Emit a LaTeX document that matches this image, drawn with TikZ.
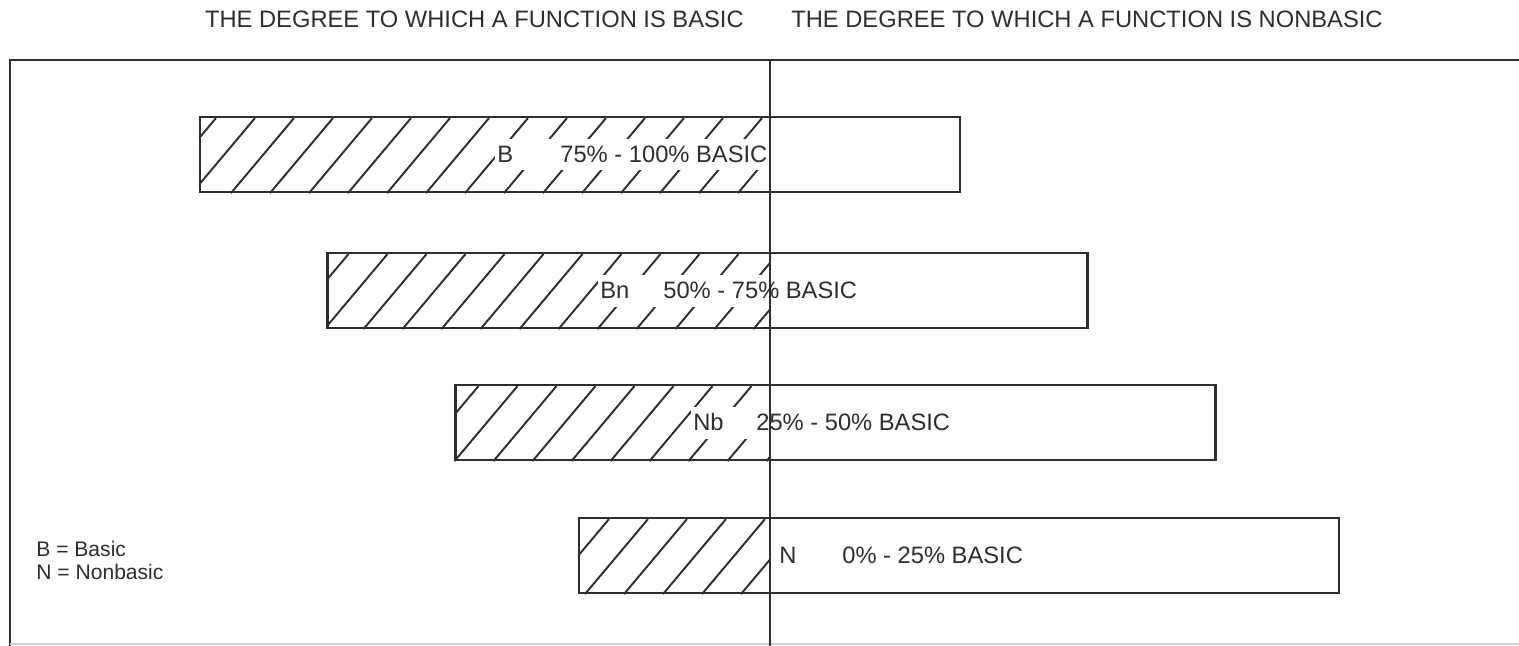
\documentclass[tikz,border=0pt]{standalone}
\usepackage{fontspec}
\setmainfont{Liberation Sans}
\usetikzlibrary{positioning}
\definecolor{PrintInk}{HTML}{2E2E2E}

\begin{document}
\begin{tikzpicture}[x=0.02cm, y=-0.02cm,
  every node/.style={font=\fontsize{13.5}{16}\selectfont, text=PrintInk},
  bar/.style={draw=PrintInk, line width=1.3pt, minimum width=15.2cm,
              minimum height=1.5cm, inner sep=0pt},
  hatch/.style={draw=PrintInk, line width=1.1pt},
  tag/.style={fill=white, anchor=west, inner xsep=0.04cm, inner ysep=0pt,
              minimum height=0.64cm},
  heading/.style={inner sep=0pt},
  keytext/.style={inner sep=0pt, anchor=base west, font=\fontsize{12}{14}\selectfont},
  frameline/.style={draw=PrintInk, line width=1.3pt}
]
\useasboundingbox (0,0) rectangle (1519,646);
% frame and axis
\coordinate (ftl) at (10,60);
\coordinate (ftr) at (1519,60);
\coordinate (fbl) at (10,646);
\coordinate (fbr) at (1519,644);
\coordinate (axtop) at (770,60);
\coordinate (axbot) at (770,646);
\draw[frameline] (fbl) -- (ftl) -- (ftr);
\draw[gray!35, line width=0.6pt] (fbl |- fbr) -- (fbr);
% bars
\node[bar] (bB) at (580,154.5) {};
\node[bar] (bBn) at (707.5,290.5) {};
\node[bar] (bNb) at (835.5,422.5) {};
\node[bar] (bN) at (959,555.5) {};
% basic share, hatched left of the axis
\foreach \b/\ph in {bB/32, bBn/37, bNb/39, bN/7} {
  \begin{scope}
    \clip (\b.south west) rectangle (\b.north -| axtop);
    \foreach \k in {-2,...,15}
      \draw[hatch] ([xshift={(\ph+39*\k)*0.02cm}]\b.south west) -- ++(63,-75);
  \end{scope}
}
% labels
\node[tag] (tB) at (495,154.5) {\makebox[1.26cm][l]{B}75\% - 100\% BASIC};
\node[tag] (tBn) at (598,290.5) {\makebox[1.26cm][l]{Bn}50\% - 75\% BASIC};
\node[tag] (tNb) at (691,422.5) {\makebox[1.26cm][l]{Nb}25\% - 50\% BASIC};
\node[tag] (tN) at (777,555.5) {\makebox[1.26cm][l]{N}0\% - 25\% BASIC};
\draw[frameline, line width=1pt] (axtop) -- (axbot);
% headings
\node[heading, anchor=base east] (hBasic) at (744,27)
  {THE DEGREE TO WHICH A FUNCTION IS BASIC};
\node[heading, anchor=base west] (hNon) at (791,27)
  {THE DEGREE TO WHICH A FUNCTION IS NONBASIC};
% key
\node[keytext] (keyB) at (36,556) {B = Basic};
\node[keytext] (keyN) at (36,579) {N = Nonbasic};
\end{tikzpicture}
\end{document}
